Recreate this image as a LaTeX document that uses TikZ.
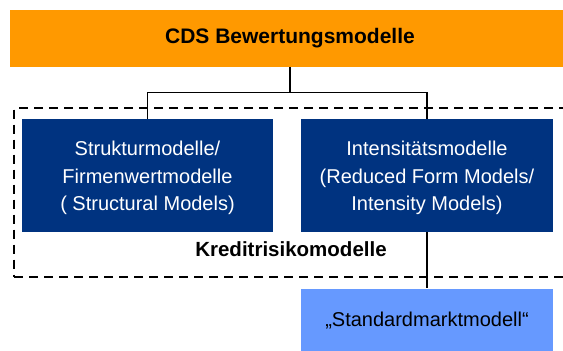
\documentclass[tikz,border=0pt]{standalone}
\usepackage{fontspec}
\setmainfont{Liberation Sans}
\definecolor{cdsorange}{RGB}{255,153,0}
\definecolor{darkbox}{RGB}{0,51,128}
\definecolor{lightbox}{RGB}{102,153,255}
\newcommand{\topstrut}{\rule{0pt}{20pt}}
\begin{document}
\begin{tikzpicture}[x=1pt,y=-1pt,
  box/.style={rectangle,inner sep=0pt,align=center,font=\fontsize{20}{27.5}\selectfont},
  darkmodel/.style={box,fill=darkbox,text=white,minimum width=252pt,minimum height=112.5pt},
  conn/.style={draw=black,line width=1.4pt},
  frame/.style={draw=black,line width=1.8pt,dash pattern=on 9pt off 6pt}]
\useasboundingbox (0,0) rectangle (563,351);
\clip (0,0) rectangle (563,351);
% dashed frame
\node[frame,rectangle,inner sep=0pt,minimum width=560pt,minimum height=168.7pt,anchor=north west] (kr) at (13.3,107.3) {};
\node[font=\fontsize{20.5}{24}\bfseries\selectfont,inner sep=0pt,anchor=base] (krlabel) at (291,256.7) {Kreditrisikomodelle};
% top box
\node[box,fill=cdsorange,minimum width=560pt,minimum height=56.7pt,font=\fontsize{21}{24}\bfseries\selectfont] (cds) at (290,38.3) {CDS Bewertungsmodelle};
% model boxes
\node[darkmodel,minimum width=251pt] (struct) at (147.5,175.4) {\topstrut Strukturmodelle/\\Firmenwertmodelle\\( Structural Models)};
\node[darkmodel] (intens) at (427,175.4) {\topstrut Intensitätsmodelle\\(Reduced Form Models/\\Intensity Models)};
\node[box,fill=lightbox,minimum width=252pt,minimum height=65pt,anchor=north] (std) at (427,288.3) {„Standardmarktmodell“};
% connectors
\coordinate (bus) at (290,92.7);
\draw[conn] (cds.south) -- (bus);
\draw[conn] (struct.north) |- (bus) -| (intens.north);
\draw[conn] (intens.south) -- (std.north);
\end{tikzpicture}
\end{document}
